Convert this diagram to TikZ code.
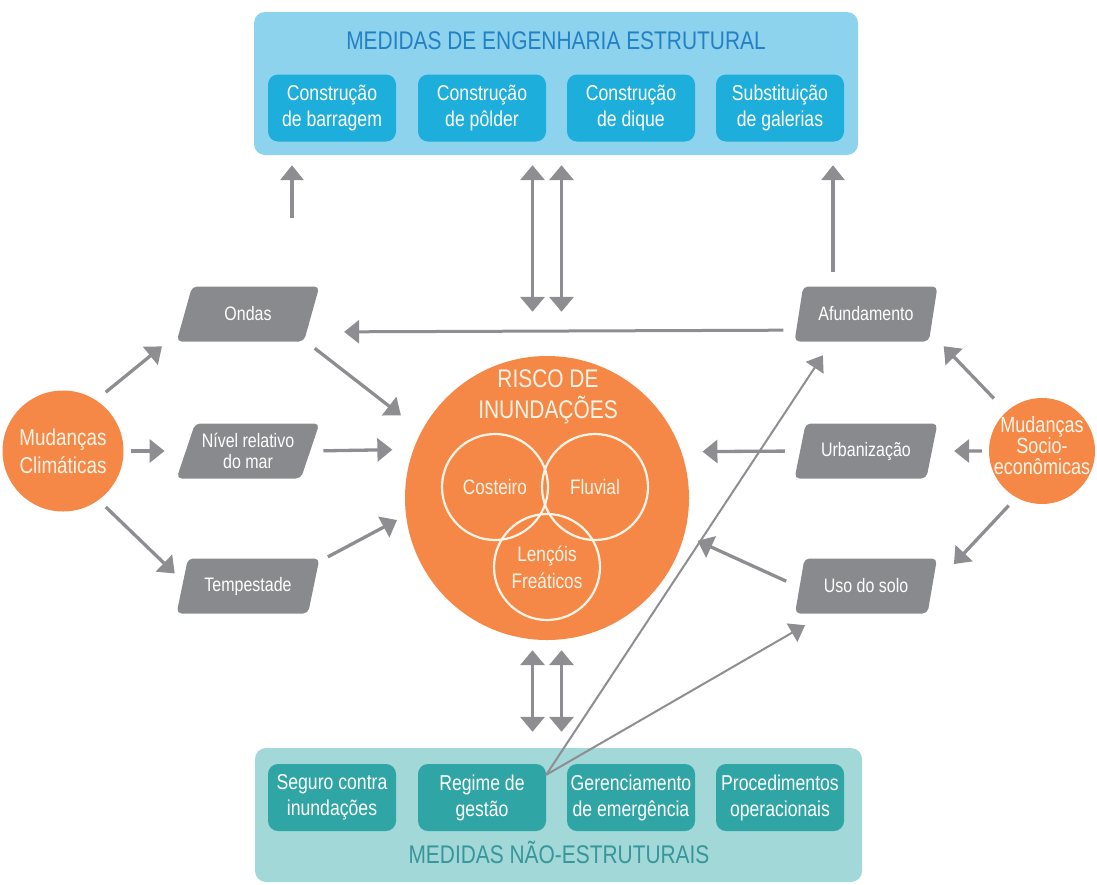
\documentclass[tikz,border=0pt]{standalone}
\usepackage{fontspec}
\setmainfont{Liberation Sans}[FakeStretch=0.82]
\usetikzlibrary{arrows.meta,shapes.geometric}

\definecolor{azulclaro}{RGB}{142,211,237}
\definecolor{azul}{RGB}{30,174,219}
\definecolor{azultitulo}{RGB}{36,128,196}
\definecolor{verdeclaro}{RGB}{163,216,216}
\definecolor{verde}{RGB}{48,165,165}
\definecolor{verdetitulo}{RGB}{55,150,155}
\definecolor{laranja}{RGB}{245,136,70}
\definecolor{cinza}{RGB}{137,138,142}
\definecolor{cinzaseta}{RGB}{142,142,146}
\definecolor{creme}{RGB}{255,244,232}

\begin{document}
\begin{tikzpicture}[x=1pt,y=-1pt,
	painel/.style={rectangle, rounded corners=11pt, inner sep=0pt},
	medida/.style={rectangle, rounded corners=10pt, minimum width=128pt, minimum height=67pt, align=center, text=white, font=\fontsize{21.5}{26}\selectfont},
	fator/.style={trapezium, trapezium left angle=65.6, trapezium right angle=114.4, trapezium stretches=true, minimum width=143pt, minimum height=55pt, rounded corners=5pt, fill=cinza, text=white, align=center, inner sep=0pt, font=\fontsize{19.5}{21}\selectfont},
	mudanca/.style={circle, fill=laranja, inner sep=0pt},
	rotulo/.style={text=creme, align=center},
	venn/.style={circle, draw=creme, line width=2.2pt, minimum size=106pt, inner sep=0pt, text=creme, align=center, font=\fontsize{21}{27}\selectfont},
	fluxo/.style={draw=cinzaseta, line width=3.3pt, -{Triangle[length=15pt,width=23pt]}},
	fluxo fino/.style={draw=cinzaseta, line width=2pt, -{Triangle[length=15pt,width=21pt]}},
	fluxo duplo/.style={draw=cinzaseta, line width=3.6pt, {Triangle[length=15pt,width=24pt]}-{Triangle[length=15pt,width=24pt]}}]

	\useasboundingbox (0,0) rectangle (1097,884);

	% Medidas estruturais
	\node[painel, fill=azulclaro, minimum width=604pt, minimum height=143pt] (estrutural) at (556,83.5) {};
	\node[text=azultitulo, font=\fontsize{25.5}{28}\selectfont] (tituloE) at (556,41) {MEDIDAS DE ENGENHARIA ESTRUTURAL};
	\node[medida, fill=azul] (barragem) at (332,108) {Construção\\de barragem};
	\node[medida, fill=azul] (polder) at (482,108) {Construção\\de pôlder};
	\node[medida, fill=azul] (dique) at (631,108) {Construção\\de dique};
	\node[medida, fill=azul] (galerias) at (780,108) {Substituição\\de galerias};

	% Medidas nao estruturais
	\node[painel, fill=verdeclaro, minimum width=607pt, minimum height=134pt] (naoestrutural) at (558.5,815) {};
	\node[text=verdetitulo, font=\fontsize{25.5}{28}\selectfont] (tituloN) at (559,852) {MEDIDAS NÃO-ESTRUTURAIS};
	\node[medida, fill=verde] (seguro) at (332,797.5) {Seguro contra\\inundações};
	\node[medida, fill=verde] (regime) at (482,797.5) {Regime de\\gestão};
	\node[medida, fill=verde] (emergencia) at (631,797.5) {Gerenciamento\\de emergência};
	\node[medida, fill=verde] (procedimentos) at (780,797.5) {Procedimentos\\operacionais};

	% Risco e tipos de inundacao
	\node[mudanca, minimum size=284pt] (risco) at (547,498) {};
	\node[rotulo, font=\fontsize{25.5}{31}\selectfont] (tituloR) at (548,397) {RISCO DE\\INUNDAÇÕES};
	\node[venn] (costeiro) at (495,487) {Costeiro};
	\node[venn] (fluvial) at (595,487) {Fluvial};
	\node[venn] (lencois) at (547,567) {Lençóis\\Freáticos};

	% Mudancas
	\node[mudanca, minimum size=121pt] (clima) at (63,451) {};
	\node[rotulo, font=\fontsize{23}{28}\selectfont] at (clima) {Mudanças\\Climáticas};
	\node[mudanca, minimum size=106pt] (socio) at (1042,451) {};
	\node[rotulo, font=\fontsize{22}{21}\selectfont] at (1042,446) {Mudanças\\Socio-\\econômicas};

	% Fatores
	\node[fator] (ondas) at (248,314) {Ondas};
	\node[fator] (nivel) at (248,451) {Nível relativo\\do mar};
	\node[fator] (tempestade) at (248,586) {Tempestade};
	\node[fator] (afundamento) at (866,314) {Afundamento};
	\node[fator] (urbanizacao) at (866,451) {Urbanização};
	\node[fator] (solo) at (866,586) {Uso do solo};

	% Clima -> fatores -> risco
	\draw[fluxo, shorten <=12.5pt, shorten >=22pt] (clima.57) -- (ondas.195.8);
	\draw[fluxo, shorten <=7pt, shorten >=21pt] (clima.east) -- (nivel.180);
	\draw[fluxo, shorten <=10pt, shorten >=11.5pt] (clima.-54.1) -- (tempestade.176.7);
	\draw[fluxo, shorten <=13pt, shorten >=26pt] (ondas.-25.2) -- (risco.152.8);
	\draw[fluxo, shorten <=13pt, shorten >=21pt] (nivel.0) -- (risco.160.7);
	\draw[fluxo, shorten <=10pt, shorten >=10pt] (tempestade.19.1) -- (risco.187);

	% Socioeconomia -> fatores -> risco
	\draw[fluxo, shorten <=18pt, shorten >=19pt] (socio.132.6) -- (afundamento.-16.3);
	\draw[fluxo, shorten <=7pt, shorten >=22pt] (socio.180) -- (urbanizacao.0);
	\draw[fluxo, shorten <=11pt, shorten >=31.6pt] (socio.-119.4) -- (solo.-1.2);
	\draw[fluxo, shorten <=15pt, shorten >=21pt] (urbanizacao.180) -- (risco.19.3);
	\draw[fluxo, shorten <=14.4pt, shorten >=14.4pt] (solo.181.4) -- (risco.-15.7);
	\draw[fluxo, line width=3pt, shorten <=12.7pt, shorten >=37.3pt] (afundamento.193.6) -- (ondas.-17.2);

	% Regime de gestao
	\draw[fluxo fino, shorten >=16.2pt] ([yshift=-11pt]regime.north east) -- (afundamento.-141.9);
	\draw[fluxo fino, shorten >=23pt] ([yshift=-11pt]regime.north east) -- (solo.-146.2);

	% Para as medidas estruturais
	\coordinate (ondasTopo) at (292,218);
	\draw[fluxo, shorten >=10pt] (ondasTopo) -- (ondasTopo |- estrutural.south);
	\draw[fluxo, shorten <=14.5pt, shorten >=10pt] ([xshift=-33pt]afundamento.north) -- ([xshift=-33pt]afundamento.north |- estrutural.south);

	% Setas duplas
	\foreach \dx in {-14.5,14.5} {
		\draw[fluxo duplo, shorten <=44pt, shorten >=10pt] ([xshift=\dx pt]risco.north) -- ([xshift=\dx pt]risco.north |- estrutural.south);
		\draw[fluxo duplo, shorten <=10pt, shorten >=16pt] ([xshift=\dx pt]risco.south) -- ([xshift=\dx pt]risco.south |- naoestrutural.north);
	}

\end{tikzpicture}
\end{document}
